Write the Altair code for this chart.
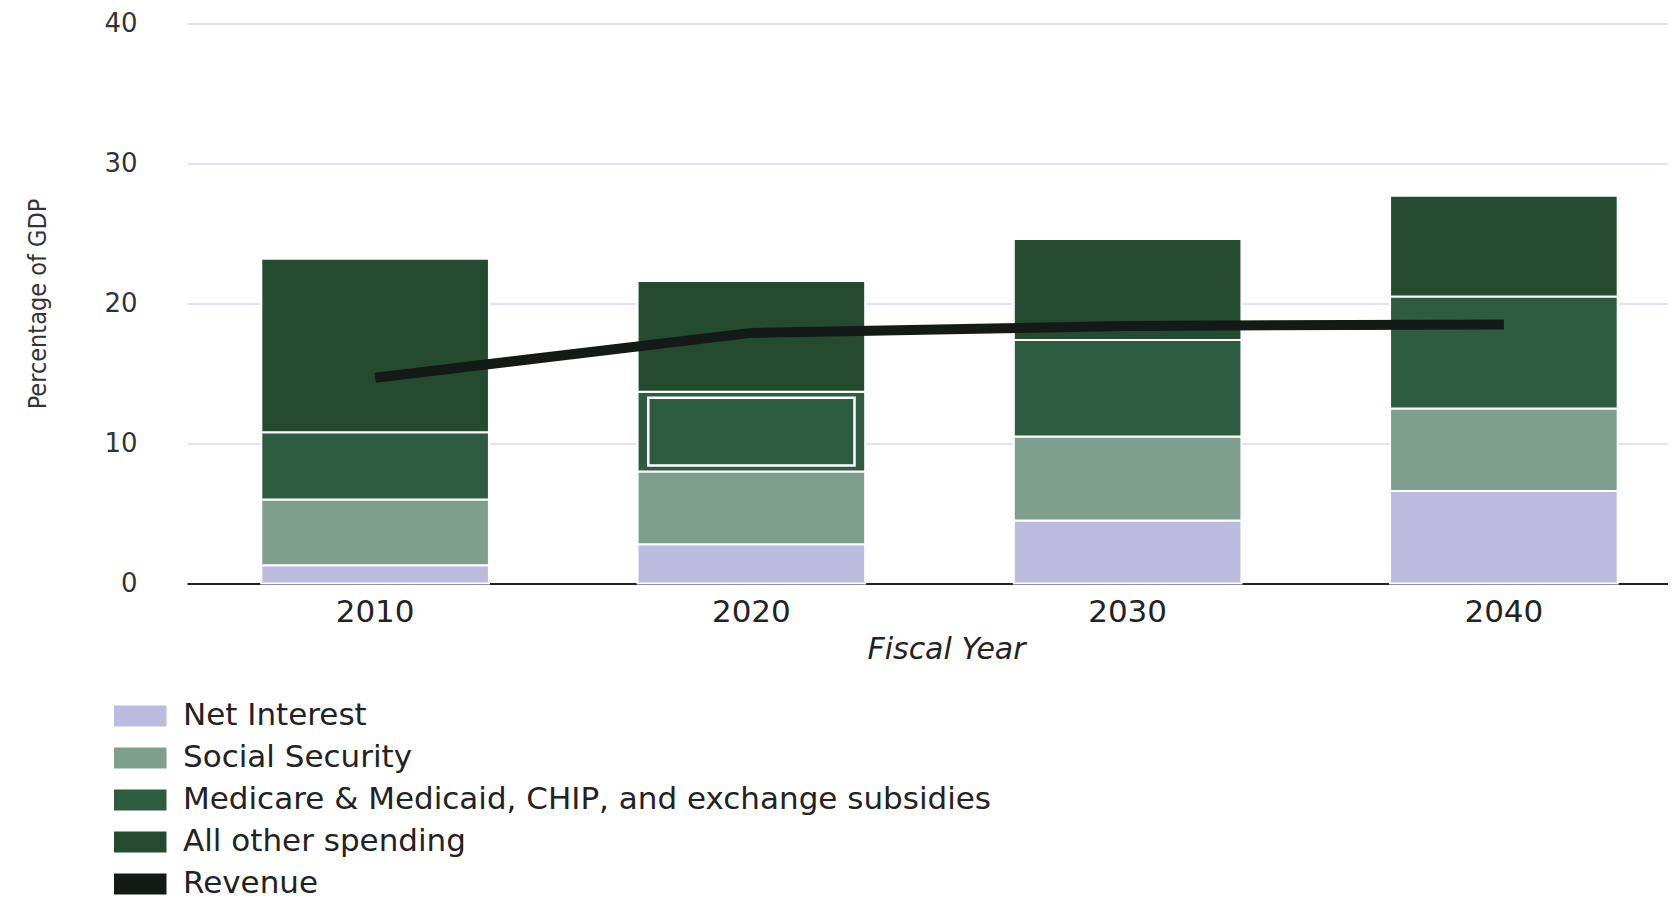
import altair as alt
import pandas as pd

years = ["2010", "2020", "2030", "2040"]
series = [
    "Net Interest",
    "Social Security",
    "Medicare & Medicaid, CHIP, and exchange subsidies",
    "All other spending",
]
net_interest = [1.3, 2.8, 4.5, 6.6]
social_security = [4.7, 5.2, 6.0, 5.9]
medicare = [4.8, 5.7, 6.9, 8.0]
all_other = [12.4, 7.9, 7.2, 7.2]
revenue = [14.7, 17.9, 18.4, 18.5]
legend_labels = series + ["Revenue"]
colors = ["#bdbae0", "#7f9f8e", "#2e5c40", "#244b2f", "#141a16"]
highlight_year = "2020"
highlight_series = series[2]

values = [net_interest, social_security, medicare, all_other]
rows = []
for i, yr in enumerate(years):
    cum = 0.0
    for j, s in enumerate(series):
        v = values[j][i]
        rows.append({"year": yr, "series": s, "start": cum, "end": cum + v, "idx": j})
        cum += v
df = pd.DataFrame(rows)
rev_df = pd.DataFrame({"year": years, "revenue": revenue})
hl_df = df[(df["year"] == highlight_year) & (df["series"] == highlight_series)]

xscale = alt.Scale(domain=years, range=[0, 1505], paddingInner=0.395, paddingOuter=0.1975)
yscale = alt.Scale(domain=[0, 40])

x_axis = alt.Axis(
    labelFont="DejaVu Sans", labelFontSize=31, labelColor="#222", labelAngle=0,
    labelPadding=14, ticks=False, domainColor="#222", domainWidth=2, grid=False,
    titleFont="DejaVu Sans", titleFontStyle="italic", titleFontSize=30,
    titleFontWeight="normal", titleColor="#222", titleX=759, titleY=66,
    titleBaseline="middle",
)
y_axis = alt.Axis(
    values=[0, 10, 20, 30, 40], labelFont="DejaVu Sans", labelFontSize=26,
    labelColor="#333", labelPadding=50, ticks=False, domain=False, grid=True,
    gridColor="#c6c3ef", gridWidth=1.2,
    titleFont="Liberation Sans Narrow, DejaVu Sans Condensed, Liberation Sans",
    titleFontSize=25, titleFontWeight="normal",
    titleColor="#333", titleX=-150, titleY=280, titleAngle=270,
    titleAlign="center", titleBaseline="middle",
)

bars = alt.Chart(df).mark_bar(stroke="white", strokeWidth=2).encode(
    x=alt.X("year:N", scale=xscale, axis=x_axis, title="Fiscal Year", sort=years),
    y=alt.Y("start:Q", scale=yscale, axis=y_axis, title="Percentage of GDP"),
    y2="end:Q",
    color=alt.Color(
        "series:N",
        scale=alt.Scale(domain=legend_labels, range=colors),
        legend=alt.Legend(
            title=None, orient="none", legendX=-78, legendY=677,
            symbolType="M-1,-1H4V1H-1Z", symbolSize=441, symbolStrokeWidth=0,
            symbolOpacity=1, labelFont="DejaVu Sans", labelFontSize=31,
            labelColor="#222", labelOffset=43, labelLimit=0, rowPadding=10,
            padding=0, direction="vertical",
        ),
    ),
)

highlight = alt.Chart(hl_df).mark_bar(
    fillOpacity=0, stroke="white", strokeWidth=2.5,
    width=alt.RelativeBandSize(0.906), yOffset=-6, y2Offset=6,
).encode(
    x=alt.X("year:N", sort=years),
    y="start:Q",
    y2="end:Q",
)

line = alt.Chart(rev_df).mark_line(color="#141a16", strokeWidth=10, strokeCap="butt").encode(
    x=alt.X("year:N", sort=years),
    y="revenue:Q",
)

chart = alt.layer(bars, highlight, line).properties(
    width=1476,
    height=560,
    autosize=alt.AutoSizeParams(type="none"),
    padding={"left": 179, "top": 15.5, "right": 5, "bottom": 321.5},
).configure_view(strokeWidth=0)

chart.save("out.html", embed_options={"renderer": "svg", "actions": False})
